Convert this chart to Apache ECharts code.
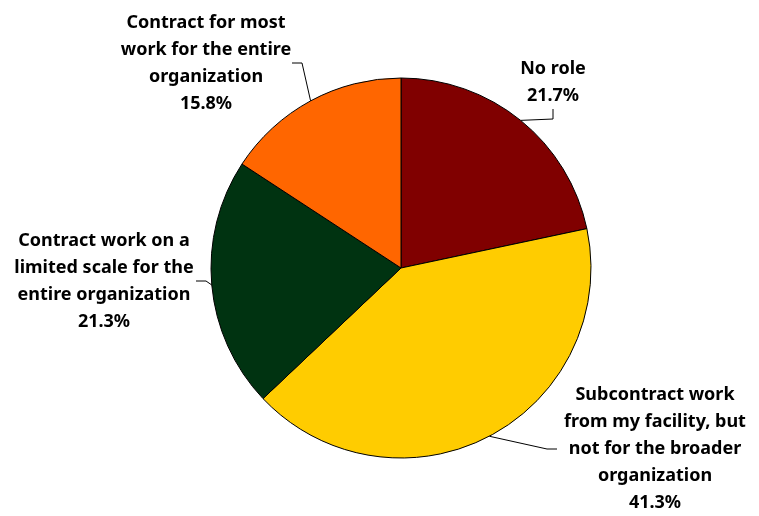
<!DOCTYPE html>
<html>
<head>
<meta charset="utf-8">
<script src="https://cdn.jsdelivr.net/npm/echarts@6/dist/echarts.min.js"></script>
<style>
  html, body { margin: 0; padding: 0; background: #fff; }
  #chart { width: 759px; height: 516px; }
</style>
</head>
<body>
<div id="chart"></div>
<script>
// 各类角色及占比(%),顺时针从 12 点方向开始
const categories = [
  'No role',
  'Subcontract work\nfrom my facility, but\nnot for the broader\norganization',
  'Contract work on a\nlimited scale for the\nentire organization',
  'Contract for most\nwork for the entire\norganization'
]
const shares = [21.7, 41.3, 21.3, 15.8]
const COLORS = ['#800000', '#FFCC00', '#003311', '#FF6600']

// 标签中心位置与宽度(像素)
const LABEL_POS = [
  { x: 553, y: 82 },
  { x: 655, y: 449 },
  { x: 104, y: 281 },
  { x: 206, y: 63 }
]
const LABEL_W = [76, 196, 184, 172]

const chart = echarts.init(document.getElementById('chart'))
chart.setOption({
  animation: false,
  series: [{
    type: 'pie',
    center: [401, 268],
    radius: 190,
    startAngle: 90,
    clockwise: true,
    data: categories.map((name, i) => ({
      name, value: shares[i],
      itemStyle: { color: COLORS[i] },
      label: { width: LABEL_W[i] }
    })),
    itemStyle: { borderColor: '#000', borderWidth: 1 },
    emphasis: { disabled: true },
    label: {
      show: true,
      formatter: p => p.name + '\n' + p.value.toFixed(1) + '%',
      color: '#000',
      fontFamily: 'Noto Sans',
      fontWeight: 'bold',
      fontSize: 18,
      lineHeight: 27,
      overflow: 'none',
      align: 'center'
    },
    labelLine: { show: true, length: 10, length2: 10, lineStyle: { color: '#000', width: 1 } },
    labelLayout: p => ({
      x: LABEL_POS[p.dataIndex].x,
      y: LABEL_POS[p.dataIndex].y,
      align: 'center',
      verticalAlign: 'middle'
    })
  }]
})
</script>
</body>
</html>
